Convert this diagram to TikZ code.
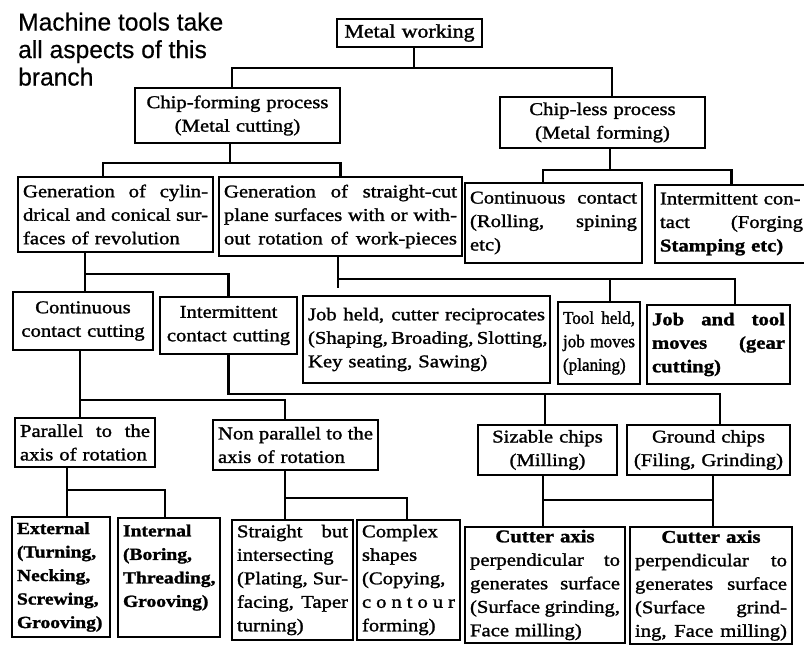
\documentclass[tikz,border=0pt]{standalone}
\usepackage{fontspec}
\setmainfont{Liberation Serif}[FakeStretch=1.15, FakeBold=1.4]
\newfontfamily\condfont{Liberation Serif}[FakeStretch=0.95, FakeBold=1.4]
\newfontfamily\notefont{Liberation Sans}[FakeBold=0.5]
\newcommand\jline[1]{\makebox[\hsize][s]{\spaceskip=.25em plus 1fil minus .08em\xspaceskip=\spaceskip #1}}
\newcommand\ctline[1]{\makebox[\hsize][c]{#1}}
\newcommand\mybox[7][]{%
  \pgfmathsetmacro\bw{#5-#3}%
  \pgfmathsetmacro\bh{#6-#4}%
  \pgfmathsetmacro\tw{#5-#3-10}%
  \node[box, minimum width=\bw pt, minimum height=\bh pt, text width=\tw pt, #1] (#2) at (#3,#4) {#7};}
\begin{document}
\begin{tikzpicture}[x=1pt,y=-1pt,
  box/.style={draw, line width=2.6pt, outer sep=0pt, inner xsep=5pt, inner ysep=0pt,
    anchor=north west, align=left, font=\fontsize{18}{23.5}\selectfont},
  boldtxt/.style={font=\fontsize{17}{23.5}\selectfont\bfseries},
  conn/.style={draw, line width=2.6pt}]
\fill[white] (0,0) rectangle (804,663);
\useasboundingbox (0,0) rectangle (804,663);

\node[anchor=north west, inner sep=0pt, align=left,
  font=\notefont\fontsize{24.6}{27.5}\selectfont] (note) at (18,12.5)
  {Machine tools take\\all aspects of this\\branch};

\mybox[align=center, font=\fontsize{19}{23.5}\selectfont]{mw}{337}{19}{482}{47}{Metal working}
\mybox[align=center]{cf}{135}{88}{340}{143}{Chip-forming process\\(Metal cutting)}
\mybox[align=center]{cl}{500}{97}{705}{148}{Chip-less process\\(Metal forming)}

\mybox{gc}{18}{177}{213}{252}{\jline{Generation of cylin-}\\\jline{drical and conical sur-}\\faces of revolution}
\mybox{gs}{219}{177}{462}{256}{\jline{Generation of straight-cut}\\\jline{plane surfaces with or with-}\\\jline{out rotation of work-pieces}}
\mybox{cc}{465}{183}{642}{263}{\jline{Continuous contact}\\\jline{(Rolling, spining}\\etc)}
\mybox{ic}{655}{185}{808}{263}{Intermittent con-\\\jline{tact (Forging}\\\textbf{Stamping etc)}}

\mybox[align=center]{ccc}{13}{292}{153}{350}{Continuous\\contact cutting}
\mybox[align=center]{icc}{160}{297}{297}{354}{Intermittent\\contact cutting}
\mybox{jh}{303}{296}{550}{383}{\jline{Job held, cutter reciprocates}\\\jline{(Shaping, Broading, Slotting,}\\Key seating, Sawing)}
\mybox[font=\condfont\fontsize{18}{23.5}\selectfont]{th}{558}{302}{640}{384}{\jline{Tool held,}\\\jline{job moves}\\(planing)}
\mybox[font=\fontsize{18}{23.5}\selectfont\bfseries]{jt}{647}{305}{790}{384}{\jline{Job and tool}\\\jline{moves (gear}\\cutting)}

\mybox{pa}{15}{418}{155}{467}{\jline{Parallel to the}\\axis of rotation}
\mybox{np}{213}{420}{378}{470}{\jline{Non parallel to the}\\axis of rotation}
\mybox[align=center]{sc}{478}{425}{617}{475}{Sizable chips\\(Milling)}
\mybox[align=center]{gr}{627}{425}{790}{475}{Ground chips\\(Filing, Grinding)}

\mybox[boldtxt]{ex}{12}{517}{110}{637}{External\\(Turning,\\Necking,\\Screwing,\\Grooving)}
\mybox[boldtxt]{in}{118}{518}{220}{637}{Internal\\(Boring,\\Threading,\\Grooving)\\\mbox{}}
\mybox{sb}{232}{520}{353}{640}{\jline{Straight but}\\intersecting\\\jline{(Plating, Sur-}\\\jline{facing, Taper}\\turning)}
\mybox{cx}{357}{520}{460}{640}{Complex\\shapes\\(Copying,\\\jline{c\hfill o\hfill n\hfill t\hfill o\hfill u\hfill r}\\forming)}
\mybox{ca1}{465}{527}{625}{643}{\ctline{\textbf{Cutter axis}}\\\jline{perpendicular to}\\\jline{generates surface}\\\jline{(Surface grinding,}\\Face milling)}
\mybox{ca2}{630}{527}{792}{644}{\ctline{\textbf{Cutter axis}}\\\jline{perpendicular to}\\\jline{generates surface}\\\jline{(Surface grind-}\\\jline{ing, Face milling)}}

% connectors
\draw[conn] ([xshift=4.5]mw.south) -- ++(0,21) coordinate (b1) -| ([xshift=-5.5]cf.north);
\draw[conn] (b1) -| ([xshift=9.5]cl.north);
\draw[conn] ([xshift=-7.5]cf.south) -- ++(0,20) coordinate (b2) -| ([xshift=-12.5]gc.north);
\draw[conn] (b2) -| (gs.north);
\draw[conn] ([xshift=7.5]cl.south) -- ++(0,22) coordinate (b3) -| ([xshift=-10.5]cc.north);
\draw[conn] (b3) -| (ic.north);
\draw[conn] ([xshift=-30.5]gc.south) -- ++(0,22) coordinate (b4) -| ([xshift=2]ccc.north);
\draw[conn] (b4) -| (icc.north);
\draw[conn] ([xshift=-2.5]gs.south) -- ++(0,32);
\draw[conn] ([xshift=-2.5]gs.south) ++(0,23) coordinate (b5) -| ([xshift=11]th.north);
\draw[conn] (b5) -| ([xshift=16.5]jt.north);
\draw[conn] ([xshift=-3]ccc.south) -- ++(0,50) coordinate (b6) -| ([xshift=-5]pa.north);
\draw[conn] (b6) -| ([xshift=-10.5]np.north);
\draw[conn] (icc.south) -- ++(0,40) coordinate (b7) -| ([xshift=-2.5]sc.north);
\draw[conn] (b7) -| ([xshift=11.5]gr.north);
\draw[conn] ([xshift=-18]pa.south) -- ++(0,23) coordinate (b8) -| ([xshift=6]ex.north);
\draw[conn] (b8) -| ([xshift=-4]in.north);
\draw[conn] ([xshift=-10.5]np.south) -- ++(0,28) coordinate (b9) -| ([xshift=-7.5]sb.north);
\draw[conn] (b9) -| ([xshift=-1.5]cx.north);
\draw[conn] ([xshift=-4.5]sc.south) -- ++(0,52);
\draw[conn] ([xshift=4.5]gr.south) -- ++(0,52);
\draw[conn] ([xshift=-4.5]sc.south) ++(0,25) -| ([xshift=4.5]gr.south);
\end{tikzpicture}
\end{document}
